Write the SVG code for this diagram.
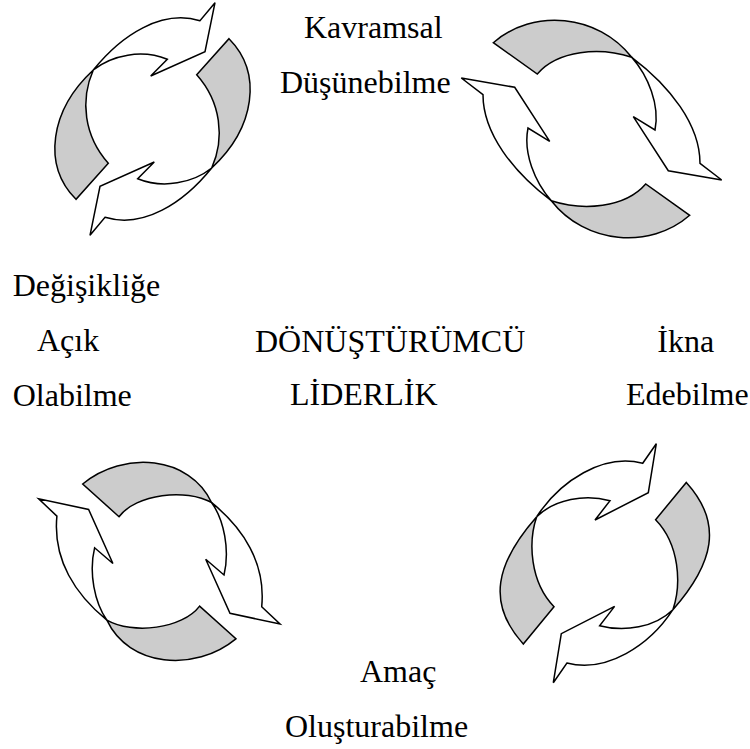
<svg xmlns="http://www.w3.org/2000/svg" width="750" height="749" viewBox="0 0 750 749">
<style>
.arrow{fill:#ffffff;stroke:#000000;stroke-width:1.5;stroke-linejoin:miter}
.back{fill:#cccccc;stroke:#000000;stroke-width:1.5;stroke-linejoin:miter}
text{font-family:'Liberation Serif',serif;font-size:32px;fill:#000000}
</style>
<rect width="750" height="749" fill="#ffffff"/>
<g id="cycle-top-left">
<g id="tl-band-1">
<path class="back" d="M93.3,70 C50,110 42,165 76,199.3 L108.3,163.3 C84,136 80,100 93.3,70 Z"/>
<path class="arrow" d="M93.3,70 C121.6,34.9 161.6,9.1 200,20.7 L215,2.7 L205,51.7 L150.7,76 L167.3,59.3 C142,49 112,55 93.3,70 Z"/>
</g>
<g id="tl-band-2" transform="rotate(180 152.5 119)">
<path class="back" d="M93.3,70 C50,110 42,165 76,199.3 L108.3,163.3 C84,136 80,100 93.3,70 Z"/>
<path class="arrow" d="M93.3,70 C121.6,34.9 161.6,9.1 200,20.7 L215,2.7 L205,51.7 L150.7,76 L167.3,59.3 C142,49 112,55 93.3,70 Z"/>
</g>
</g>
<g id="cycle-top-right">
<g id="tr-band-1">
<path class="back" d="M493.3,42.7 C533,8 598,14 631.7,57.3 C600,47 558,50 537.3,74 Z"/>
<path class="arrow" d="M631.7,57.3 C670,86 700,125 700,163.3 L721.7,180 L668.3,170.7 L633.3,116.7 L655,130 C660,105 648.2,76 631.7,57.3 Z"/>
</g>
<g id="tr-band-2" transform="rotate(180 591.5 129)">
<path class="back" d="M493.3,42.7 C533,8 598,14 631.7,57.3 C600,47 558,50 537.3,74 Z"/>
<path class="arrow" d="M631.7,57.3 C670,86 700,125 700,163.3 L721.7,180 L668.3,170.7 L633.3,116.7 L655,130 C660,105 648.2,76 631.7,57.3 Z"/>
</g>
</g>
<g id="cycle-bottom-left">
<g id="bl-band-1">
<path class="back" d="M82.7,484 C124,450 190,456 211.7,502.7 C186,488 136,494 119,516.7 Z"/>
<path class="arrow" d="M211.7,502.7 C243,528 266,563 261.7,606.7 L280,624 L230,613.3 L205.7,559.3 L224,575 C230,550 224,520 211.7,502.7 Z"/>
</g>
<g id="bl-band-2" transform="rotate(180 159.3 561.4)">
<path class="back" d="M82.7,484 C124,450 190,456 211.7,502.7 C186,488 136,494 119,516.7 Z"/>
<path class="arrow" d="M211.7,502.7 C243,528 266,563 261.7,606.7 L280,624 L230,613.3 L205.7,559.3 L224,575 C230,550 224,520 211.7,502.7 Z"/>
</g>
</g>
<g id="cycle-bottom-right">
<g id="br-band-1">
<path class="back" d="M536.7,516.7 C496,563 486,603 523.3,644 L554,606.7 C530,582 528,542 536.7,516.7 Z"/>
<path class="arrow" d="M536.7,516.7 C560,481 603,453 642.7,463.3 L656.3,443.7 L648.3,492.7 L595,520 L610,500.7 C585,494 555,499 536.7,516.7 Z"/>
</g>
<g id="br-band-2" transform="rotate(180 604.8 563.2)">
<path class="back" d="M536.7,516.7 C496,563 486,603 523.3,644 L554,606.7 C530,582 528,542 536.7,516.7 Z"/>
<path class="arrow" d="M536.7,516.7 C560,481 603,453 642.7,463.3 L656.3,443.7 L648.3,492.7 L595,520 L610,500.7 C585,494 555,499 536.7,516.7 Z"/>
</g>
</g>
<g id="connectors"></g>
<g id="labels" font-family="Liberation Serif, serif" font-size="32">
<g id="label-kavramsal"><text x="304" y="38">Kavramsal</text><text x="280" y="92.5">Düşünebilme</text></g>
<g id="label-degisiklige"><text x="12.7" y="296">Değişikliğe</text><text x="37" y="351">Açık</text><text x="12.7" y="405.5">Olabilme</text></g>
<g id="label-center"><text x="255" y="352.3">DÖNÜŞTÜRÜMCÜ</text><text x="290" y="405">LİDERLİK</text></g>
<g id="label-ikna"><text x="657.3" y="351.7">İkna</text><text x="626" y="405">Edebilme</text></g>
<g id="label-amac"><text x="360" y="681.7">Amaç</text><text x="285" y="736.5">Oluşturabilme</text></g>
</g>
</svg>
